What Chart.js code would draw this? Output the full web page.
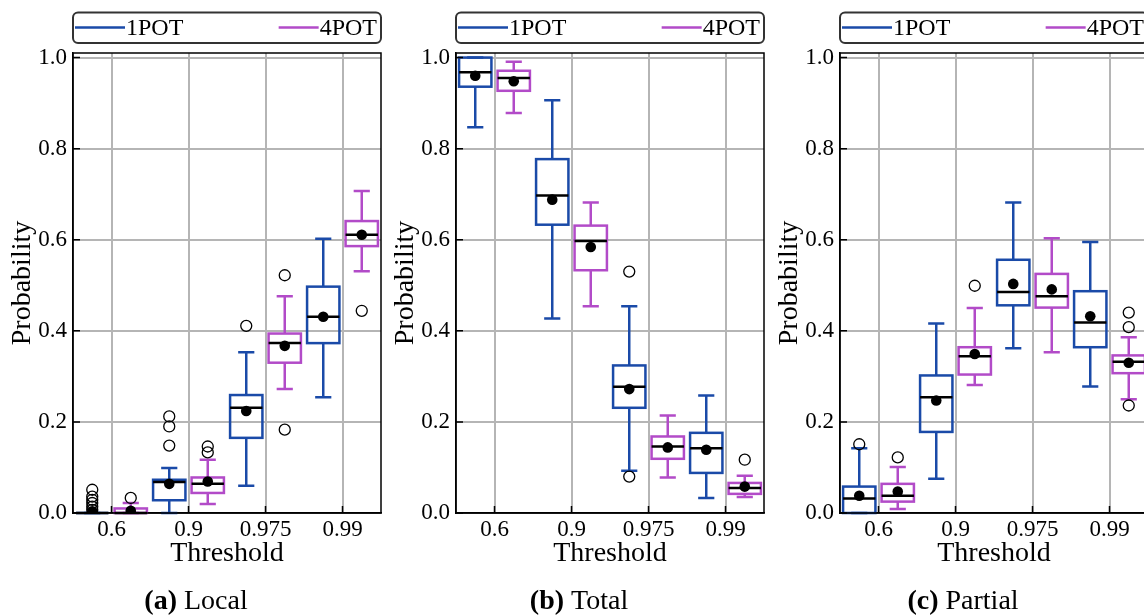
<!DOCTYPE html>
<html>
<head>
<meta charset="utf-8">
<script src="https://cdn.jsdelivr.net/npm/chart.js@4.4.1/dist/chart.umd.min.js"></script>
<style>
  html, body { margin: 0; padding: 0; background: #fff; overflow: hidden; }
  #wrap { position: relative; width: 1144px; height: 615px; overflow: hidden; }
  canvas { position: absolute; top: 0; }
</style>
</head>
<body>
<div id="wrap">
  <canvas id="local" width="384" height="615" style="left:0px"></canvas>
  <canvas id="total" width="384" height="615" style="left:383px"></canvas>
  <canvas id="partial" width="384" height="615" style="left:767px"></canvas>
</div>
<script>
const thresholds = ['0.6', '0.9', '0.975', '0.99'];
const series = ['1POT', '4POT'];
const seriesColors = ['#1a4aa8', '#b24bc8'];
const yTicks = [0, 0.2, 0.4, 0.6, 0.8, 1.0];

// one row per threshold: [lower whisker, q1, median, q3, upper whisker, mean]
const local1 = [
  [0, 0, 0, 0, 0, 0.004],
  [0, 0.028, 0.068, 0.073, 0.099, 0.064],
  [0.060, 0.165, 0.231, 0.259, 0.353, 0.224],
  [0.254, 0.373, 0.431, 0.497, 0.602, 0.431]
];
const local4 = [
  [0, 0, 0, 0.010, 0.022, 0.005],
  [0.020, 0.044, 0.064, 0.078, 0.117, 0.069],
  [0.272, 0.330, 0.373, 0.394, 0.476, 0.367],
  [0.531, 0.586, 0.611, 0.641, 0.707, 0.611]
];
const local1Out = [[0.051, 0.036, 0.029, 0.022, 0.014, 0.007], [0.212, 0.190, 0.148], [0.411], []];
const local4Out = [[0.033], [0.146, 0.133], [0.522, 0.183], [0.444]];

const total1 = [
  [0.847, 0.936, 0.968, 1.0, 1.0, 0.960],
  [0.427, 0.633, 0.697, 0.777, 0.906, 0.688],
  [0.093, 0.231, 0.277, 0.324, 0.454, 0.272],
  [0.033, 0.088, 0.142, 0.176, 0.258, 0.139]
];
const total4 = [
  [0.878, 0.927, 0.955, 0.971, 0.991, 0.948],
  [0.454, 0.533, 0.597, 0.631, 0.682, 0.584],
  [0.078, 0.119, 0.146, 0.168, 0.214, 0.144],
  [0.035, 0.042, 0.055, 0.066, 0.082, 0.058]
];
const total1Out = [[], [], [0.530, 0.080], []];
const total4Out = [[], [], [], [0.117]];

const partial1 = [
  [0, 0, 0.032, 0.058, 0.142, 0.038],
  [0.075, 0.178, 0.254, 0.302, 0.416, 0.247],
  [0.362, 0.456, 0.485, 0.556, 0.682, 0.503],
  [0.278, 0.364, 0.418, 0.487, 0.595, 0.432]
];
const partial4 = [
  [0.009, 0.025, 0.038, 0.064, 0.101, 0.047],
  [0.281, 0.304, 0.344, 0.364, 0.450, 0.349],
  [0.353, 0.451, 0.476, 0.525, 0.603, 0.491],
  [0.250, 0.307, 0.332, 0.346, 0.386, 0.330]
];
const partial1Out = [[0.151], [], [], []];
const partial4Out = [[0.122], [0.499], [], [0.440, 0.408, 0.236]];

const serif = "'Liberation Serif', 'Times New Roman', serif";
const offsets = [-0.25, 0.25];
const boxWidth = 0.42;

function makePanel(id, tag, name, stats, fliers) {
  const datasets = [];
  fliers.forEach((cols, s) => {
    datasets.push({
      label: series[s] + ' outliers',
      data: cols.flatMap((vals, i) => vals.map(v => ({ x: i + offsets[s], y: v }))),
      pointRadius: 5.5,
      pointHoverRadius: 5.5,
      backgroundColor: 'rgba(0,0,0,0)',
      borderColor: '#000',
      borderWidth: 1.3
    });
  });
  stats.forEach((rows, s) => {
    datasets.push({
      label: series[s] + ' mean',
      data: rows.map((r, i) => ({ x: i + offsets[s], y: r[5] })),
      pointRadius: 5.3,
      pointHoverRadius: 5.3,
      backgroundColor: '#000',
      borderWidth: 0
    });
  });

  // boxes, whiskers, caps and medians
  const boxes = {
    id: 'boxes',
    beforeDatasetsDraw(chart) {
      const { ctx, scales: { x, y } } = chart;
      const half = (x.getPixelForValue(boxWidth) - x.getPixelForValue(0)) / 2;
      ctx.save();
      ctx.lineCap = 'butt';
      stats.forEach((rows, s) => {
        rows.forEach((r, i) => {
          const cx = x.getPixelForValue(i + offsets[s]);
          const [lo, q1, med, q3, hi] = r.map(v => y.getPixelForValue(v));
          ctx.strokeStyle = seriesColors[s];
          ctx.lineWidth = 2.5;
          ctx.beginPath();
          ctx.moveTo(cx, q1); ctx.lineTo(cx, lo);
          ctx.moveTo(cx, q3); ctx.lineTo(cx, hi);
          ctx.moveTo(cx - half / 2, lo); ctx.lineTo(cx + half / 2, lo);
          ctx.moveTo(cx - half / 2, hi); ctx.lineTo(cx + half / 2, hi);
          ctx.stroke();
          ctx.strokeRect(cx - half, q3, half * 2, q1 - q3);
          ctx.strokeStyle = '#000';
          ctx.beginPath();
          ctx.moveTo(cx - half, med); ctx.lineTo(cx + half, med);
          ctx.stroke();
        });
      });
      ctx.restore();
    },
    afterDraw(chart) {
      const { ctx, chartArea: a, scales: { x, y } } = chart;
      ctx.save();
      // frame and inward ticks
      ctx.strokeStyle = '#000';
      ctx.lineWidth = 1.5;
      ctx.strokeRect(a.left, a.top, a.right - a.left, a.bottom - a.top);
      ctx.beginPath();
      yTicks.forEach(v => {
        const py = y.getPixelForValue(v);
        ctx.moveTo(a.left, py); ctx.lineTo(a.left + 7, py);
      });
      thresholds.forEach((t, i) => {
        const px = x.getPixelForValue(i);
        ctx.moveTo(px, a.bottom); ctx.lineTo(px, a.bottom - 7);
      });
      ctx.stroke();

      // legend box
      ctx.beginPath();
      ctx.roundRect(a.left, 12.5, a.right - a.left, 30.5, 5);
      ctx.fillStyle = '#fff';
      ctx.fill();
      ctx.strokeStyle = '#333';
      ctx.lineWidth = 2;
      ctx.stroke();
      ctx.font = '24px ' + serif;
      ctx.textBaseline = 'middle';
      ctx.fillStyle = '#000';
      const ly = 27.5;
      ctx.lineWidth = 2.5;
      ctx.strokeStyle = seriesColors[0];
      ctx.beginPath(); ctx.moveTo(a.left + 2, ly); ctx.lineTo(a.left + 52, ly); ctx.stroke();
      ctx.textAlign = 'left';
      ctx.fillText(series[0], a.left + 53, ly + 1);
      ctx.textAlign = 'right';
      ctx.fillText(series[1], a.right - 4, ly + 1);
      const tw = ctx.measureText(series[1]).width;
      ctx.strokeStyle = seriesColors[1];
      ctx.beginPath(); ctx.moveTo(a.right - 5 - tw - 40, ly); ctx.lineTo(a.right - 5 - tw, ly); ctx.stroke();

      // caption under the panel
      const bold = '(' + tag + ')';
      const rest = ' ' + name;
      ctx.font = 'bold 28px ' + serif;
      const bw = ctx.measureText(bold).width;
      ctx.font = '28px ' + serif;
      const rw = ctx.measureText(rest).width;
      const cx0 = 196 - (bw + rw) / 2;
      ctx.textAlign = 'left';
      ctx.font = 'bold 28px ' + serif;
      ctx.fillText(bold, cx0, 602);
      ctx.font = '28px ' + serif;
      ctx.fillText(rest, cx0 + bw, 602);
      ctx.restore();
    }
  };

  return new Chart(document.getElementById(id), {
    type: 'scatter',
    data: { datasets },
    plugins: [boxes],
    options: {
      responsive: false,
      animation: false,
      devicePixelRatio: 1,
      layout: { autoPadding: false, padding: { top: 53, bottom: 45, left: 0, right: 3 } },
      plugins: { legend: { display: false }, tooltip: { enabled: false } },
      scales: {
        x: {
          type: 'linear',
          min: -0.5,
          max: 3.5,
          afterBuildTicks: s => { s.ticks = thresholds.map((t, i) => ({ value: i })); },
          afterFit: s => { s.height = 57; s.paddingLeft = 0; s.paddingRight = 0; },
          grid: { color: '#b5b5b5', lineWidth: 2, drawTicks: false },
          border: { color: '#000', width: 1.5 },
          ticks: {
            padding: 3, color: '#000', maxRotation: 0, autoSkip: false,
            font: { family: serif, size: 23 },
            callback: v => thresholds[v]
          },
          title: {
            display: true, text: 'Threshold', color: '#000',
            font: { family: serif, size: 28 }, padding: { top: 0, bottom: 0 }
          }
        },
        y: {
          min: 0,
          max: 1.01,
          afterBuildTicks: s => { s.ticks = yTicks.map(v => ({ value: v })); },
          afterFit: s => { s.width = 73; },
          grid: { color: '#b5b5b5', lineWidth: 2, drawTicks: false },
          border: { color: '#000', width: 1.5 },
          ticks: {
            padding: 6, color: '#000',
            font: { family: serif, size: 23 },
            callback: v => v.toFixed(1)
          },
          title: {
            display: true, text: 'Probability', color: '#000',
            font: { family: serif, size: 28 }, padding: { top: 6, bottom: 0 }
          }
        }
      }
    }
  });
}

makePanel('local', 'a', 'Local', [local1, local4], [local1Out, local4Out]);
makePanel('total', 'b', 'Total', [total1, total4], [total1Out, total4Out]);
makePanel('partial', 'c', 'Partial', [partial1, partial4], [partial1Out, partial4Out]);
</script>
</body>
</html>
